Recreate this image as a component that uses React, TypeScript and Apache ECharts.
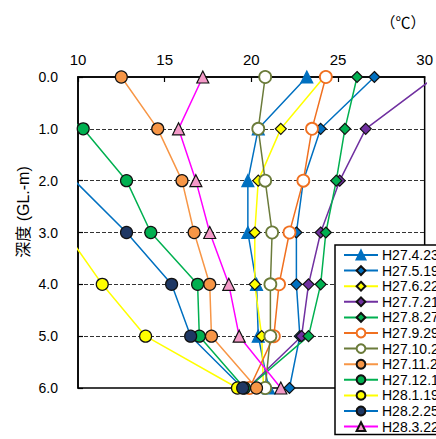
import React, { useEffect, useRef } from "react";
import * as echarts from "echarts";

const depths = [0, 1, 2, 3, 4, 5, 6];
const depthLabels = ["0.0", "1.0", "2.0", "3.0", "4.0", "5.0", "6.0"];
const tempTicks = [10, 15, 20, 25, 30];

const seriesNames = [
  "H27.4.23", "H27.5.19", "H27.6.22", "H27.7.21", "H27.8.27", "H27.9.29",
  "H27.10.2", "H27.11.2", "H27.12.1", "H28.1.19", "H28.2.25", "H28.3.22",
];

const h27_4_23 = [23.2, 20.4, 19.8, 19.8, 20.3, 20.4, 21.0];
const h27_5_19 = [27.1, 24.0, 23.0, 22.6, 22.6, 22.8, 22.2];
const h27_6_22 = [24.2, 21.7, 20.4, 20.2, 20.2, 20.6, 20.7];
const h27_7_21 = [30.6, 26.6, 25.1, 24.0, 23.3, 22.9, 19.8];
const h27_8_27 = [26.1, 25.4, 24.9, 24.3, 24.0, 23.3, 19.8];
const h27_9_29 = [24.3, 23.5, 23.0, 22.2, 21.6, 21.3, 19.9];
const h27_10_2 = [20.8, 20.4, 20.8, 21.2, 21.1, 21.1, 20.8];
const h27_11_2 = [12.5, 14.6, 16.0, 16.7, 17.6, 17.7, 20.3];
const h27_12_1 = [6.0, 10.3, 12.8, 14.2, 16.9, 17.0, 19.6];
const h28_1_19 = [5.5, 6.5, 8.0, 9.3, 11.4, 13.9, 19.2];
const h28_2_25 = [6.5, 7.5, 9.8, 12.8, 15.4, 16.5, 19.5];
const h28_3_22 = [17.2, 15.8, 16.8, 17.6, 18.7, 19.3, 21.7];

const seriesValues = [
  h27_4_23, h27_5_19, h27_6_22, h27_7_21, h27_8_27, h27_9_29,
  h27_10_2, h27_11_2, h27_12_1, h28_1_19, h28_2_25, h28_3_22,
];

const styles = [
  { line: "#0070C0", fill: "#0070C0", border: "#0070C0", symbol: "triangle", size: 12 },
  { line: "#0070C0", fill: "#0070C0", border: "#111111", symbol: "diamond", size: 11 },
  { line: "#FFFF00", fill: "#FFFF00", border: "#111111", symbol: "diamond", size: 11 },
  { line: "#7030A0", fill: "#7030A0", border: "#111111", symbol: "diamond", size: 11 },
  { line: "#00B050", fill: "#00B050", border: "#111111", symbol: "diamond", size: 11 },
  { line: "#F07020", fill: "#FFFFFF", border: "#F07020", symbol: "circle", size: 12 },
  { line: "#6B7B3A", fill: "#FFFFFF", border: "#6B7B3A", symbol: "circle", size: 12 },
  { line: "#F79646", fill: "#F79646", border: "#111111", symbol: "circle", size: 12 },
  { line: "#00B050", fill: "#00B050", border: "#111111", symbol: "circle", size: 12 },
  { line: "#FFFF00", fill: "#FFFF00", border: "#111111", symbol: "circle", size: 12 },
  { line: "#0070C0", fill: "#1F3864", border: "#111111", symbol: "circle", size: 12 },
  { line: "#FF00FF", fill: "#F49AC8", border: "#111111", symbol: "triangle", size: 12 },
];

const FONT = "'Liberation Sans', Arial, 'Noto Sans CJK JP', sans-serif";
const CJK = "'Noto Sans CJK JP', sans-serif";

export default function App() {
  const ref = useRef<HTMLDivElement>(null);
  useEffect(() => {
    if (!ref.current) return;
    const chart = echarts.init(ref.current, null, { renderer: "svg" });
    const series = seriesNames.map((name, i) => ({
      name,
      type: "line",
      data: seriesValues[i].map((t, k) => [t, depths[k]]),
      symbol: styles[i].symbol,
      symbolSize: styles[i].size,
      clip: true,
      lineStyle: { color: styles[i].line, width: 1.5 },
      itemStyle: {
        color: styles[i].fill,
        borderColor: styles[i].border,
        borderWidth: styles[i].fill === "#FFFFFF" ? 1.8 : 1.2,
      },
      emphasis: { disabled: true },
    }));
    chart.setOption({
      animation: false,
      textStyle: { fontFamily: FONT },
      grid: {
        left: 78,
        top: 77,
        right: 3,
        bottom: 51,
        show: true,
        borderColor: "#000",
        borderWidth: 1.5,
        backgroundColor: "transparent",
      },
      xAxis: {
        type: "value",
        position: "top",
        min: 10,
        max: 30,
        interval: 5,
        axisLine: { show: true, lineStyle: { color: "#000", width: 1.5 } },
        axisTick: { show: true, inside: true, length: 5, lineStyle: { color: "#000", width: 1.2 } },
        axisLabel: {
          color: "#000",
          fontSize: 15,
          margin: 10,
          fontFamily: FONT,
          formatter: (v: number) => (tempTicks.includes(v) ? String(v) : ""),
        },
        splitLine: { show: false },
      },
      yAxis: {
        type: "value",
        inverse: true,
        min: 0,
        max: 6,
        interval: 1,
        axisLine: { show: true, lineStyle: { color: "#000", width: 1.5 } },
        axisTick: { show: true, inside: true, length: 5, lineStyle: { color: "#000", width: 1.2 } },
        axisLabel: {
          color: "#000",
          fontSize: 14,
          margin: 20,
          fontFamily: FONT,
          formatter: (v: number) => depthLabels[depths.indexOf(v)] ?? "",
        },
        splitLine: {
          show: true,
          showMinLine: false,
          showMaxLine: false,
          lineStyle: { color: "#333", width: 1.2, type: [4, 2] },
        },
      },
      legend: {
        orient: "vertical",
        left: 335,
        top: 245,
        height: 240,
        itemWidth: 34,
        itemHeight: 11,
        itemGap: 1.6,
        padding: [3, 6, 1, 8],
        backgroundColor: "#fff",
        borderColor: "#000",
        borderWidth: 1.5,
        borderRadius: 0,
        selectedMode: false,
        textStyle: { color: "#000", fontSize: 14, fontFamily: FONT, lineHeight: 13, padding: [0, 0, 0, -1] },
        data: seriesNames,
      },
      graphic: [
        {
          type: "text",
          x: 23,
          y: 212,
          rotation: Math.PI / 2,
          style: {
            text: "深度 (GL.-m)",
            fontSize: 16,
            fontFamily: FONT,
            fill: "#000",
            align: "center",
            verticalAlign: "middle",
          },
        },
        {
          type: "text",
          x: 403,
          y: 21,
          style: {
            text: "（℃）",
            fontSize: 15,
            fontFamily: CJK,
            fill: "#000",
            align: "center",
            verticalAlign: "middle",
          },
        },
      ],
      series,
    });
    return () => chart.dispose();
  }, []);
  return <div ref={ref} style={{ width: 436, height: 439, position: "absolute", left: 0, top: 0 }} />;
}
